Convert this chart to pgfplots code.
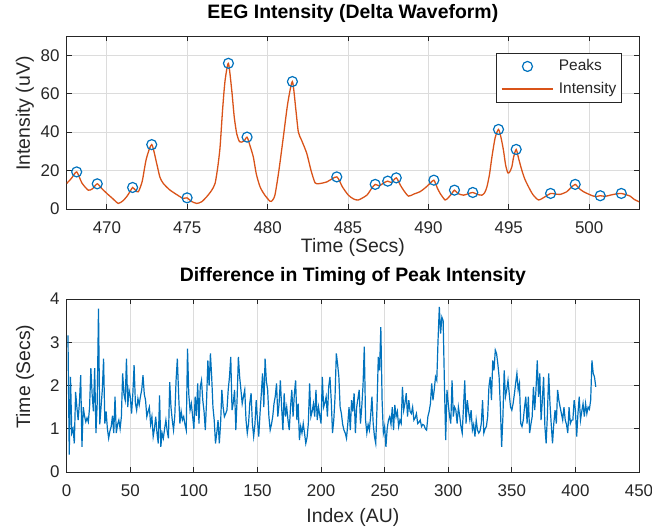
\documentclass[border=0pt]{standalone}
\usepackage{fontspec}
\setmainfont{Liberation Sans}
\usepackage{pgfplots}
\pgfplotsset{compat=1.18}

\definecolor{mblue}{rgb}{0,0.447,0.741}
\definecolor{morange}{rgb}{0.85,0.325,0.098}
\definecolor{axgray}{rgb}{0.15,0.15,0.15}
\definecolor{gridgray}{RGB}{220,220,220}

\pgfplotsset{
  matlab/.style={
    scale only axis, width=572.3bp, height=173bp,
    axis line style={axgray, line width=0.9bp},
    tick style={axgray, line width=0.9bp},
    tick align=inside, tick pos=both, major tick length=5bp,
    grid=major, grid style={gridgray, line width=0.8bp},
    /pgf/number format/assume math mode=true,
    ticklabel style={font=\fontsize{17}{20}\selectfont, text=axgray, inner sep=0pt},
    xticklabel style={anchor=center, yshift=-19bp},
    yticklabel style={anchor=east, xshift=-7bp},
    label style={font=\fontsize{19.5}{22}\selectfont, text=axgray},
    title style={font=\bfseries\fontsize{19.5}{22}\selectfont, anchor=center},
    ylabel style={at={(axis description cs:-0.0729,0.552)}, anchor=center},
  },
  marklegend/.style={legend image code/.code={\draw[##1] plot coordinates {(25.8bp,0bp)};}},
  linelegend/.style={legend image code/.code={\draw[##1] (0bp,0bp) -- (51.6bp,0bp);}},
}

\begin{document}
\begin{tikzpicture}
\useasboundingbox (-66.7bp,-321bp) rectangle (585.3bp,209bp);

% top panel: intensity trace with detected peaks
\begin{axis}[matlab,
  at={(0,0)}, anchor=south west,
  xmin=467.5, xmax=503.1, ymin=0, ymax=90,
  xtick={470,475,...,500}, ytick={0,20,...,80},
  title={EEG Intensity (Delta Waveform)},
  title style={at={(axis description cs:0.5,1.098)}},
  xlabel={Time (Secs)}, ylabel={Intensity (uV)},
  xlabel style={at={(axis description cs:0.5,-0.2197)}, anchor=center},
  legend cell align=left,
  legend style={at={(rel axis cs:0.970,0.903)}, anchor=north east,
    draw=axgray, line width=0.8bp, fill=white,
    font=\fontsize{15.5}{18}\selectfont, text=axgray,
    inner xsep=5bp, inner ysep=6bp, row sep=8.2bp,
    nodes={inner sep=0pt, text height=11.5bp, text depth=3bp},
    /tikz/every odd column/.append style={column sep=5bp}},
]
\addplot[only marks, mark=o, mblue, mark size=5bp, mark options={line width=1.2bp}, marklegend]
  coordinates {
  (468.12,19.3) (469.40,13.1) (471.60,11.2) (472.79,33.5) (474.99,5.8)
  (477.56,75.8) (478.72,37.4) (481.54,66.3) (484.30,16.7) (486.69,12.8)
  (487.47,14.5) (488.00,16.2) (490.34,15.0) (491.62,9.8) (492.76,8.6)
  (494.36,41.4) (495.46,31.0) (497.60,8.1) (499.13,12.8) (500.69,6.9)
  (502.00,8.1)
};
\addlegendentry{Peaks}
\addplot[morange, line width=1.3bp, smooth, tension=0.4, linelegend]
  coordinates {
  (467.50,13.3) (467.80,16.0) (468.12,19.3) (468.45,13.5) (468.84,9.8)
  (469.10,10.5) (469.40,13.1) (469.70,10.5) (470.00,8.1) (470.35,5.5)
  (470.71,2.9) (471.00,4.3) (471.23,6.4) (471.45,9.2) (471.60,11.2)
  (471.80,9.6) (471.96,9.0) (472.20,14.5) (472.45,26.0) (472.79,33.5)
  (473.10,23.6) (473.30,16.5) (473.51,13.3) (473.93,9.8) (474.55,6.4)
  (474.75,5.5) (474.99,5.8) (475.25,4.0) (475.59,2.9) (475.90,3.8)
  (476.21,6.4) (476.50,9.5) (476.73,13.3) (476.90,22.0) (477.04,32.2)
  (477.20,52.0) (477.35,66.7) (477.56,75.8) (477.77,61.5) (477.92,48.0)
  (478.08,39.0) (478.25,35.0) (478.39,34.8) (478.55,35.5) (478.72,37.4)
  (478.90,33.0) (479.11,27.0) (479.30,18.0) (479.53,11.5) (479.80,7.5)
  (480.15,4.0) (480.30,4.5) (480.46,7.5) (480.70,20.0) (481.00,39.0)
  (481.25,55.0) (481.54,66.3) (481.75,52.0) (481.91,40.0) (482.10,36.0)
  (482.43,29.0) (482.70,20.0) (482.95,13.6) (483.20,13.2) (483.68,14.1)
  (484.30,16.7) (484.65,11.5) (485.02,7.2) (485.35,5.2) (485.65,4.7)
  (486.17,7.2) (486.45,10.5) (486.69,12.8) (486.95,12.0) (487.20,13.5)
  (487.47,14.5) (487.70,13.8) (488.00,16.2) (488.25,12.5) (488.45,9.8)
  (488.76,6.7) (489.10,7.8) (489.48,9.0) (489.80,11.0) (490.10,13.3)
  (490.34,15.0) (490.55,11.0) (490.73,8.1) (491.04,4.7) (491.25,6.0)
  (491.46,8.1) (491.62,9.8) (491.85,8.0) (492.18,7.2) (492.50,8.0)
  (492.76,8.6) (493.05,7.6) (493.33,7.2) (493.50,8.5) (493.64,11.5)
  (493.80,18.0) (493.95,27.0) (494.15,37.0) (494.36,41.4) (494.52,37.0)
  (494.67,30.5) (494.80,23.0) (494.94,18.8) (495.05,19.2) (495.19,21.9)
  (495.30,27.0) (495.46,31.0) (495.62,26.0) (495.81,20.2) (496.00,15.5)
  (496.23,11.5) (496.50,7.5) (496.85,4.7) (497.26,6.4) (497.60,8.1)
  (497.90,7.8) (498.20,7.6) (498.61,9.0) (498.85,11.0) (499.13,12.8)
  (499.40,10.5) (499.65,9.0) (500.00,7.6) (500.27,6.7) (500.45,6.5)
  (500.69,6.9) (501.00,6.6) (501.31,7.2) (501.65,7.8) (502.00,8.1)
  (502.30,7.4) (502.55,6.7) (502.80,5.0) (503.10,3.8)
};
\addlegendentry{Intensity}
\end{axis}

% bottom panel: spacing between consecutive peaks
\begin{axis}[matlab,
  at={(0,-90bp)}, anchor=north west,
  xmin=0, xmax=450, ymin=0, ymax=4,
  xtick={0,50,...,450}, ytick={0,1,...,4},
  title={Difference in Timing of Peak Intensity},
  title style={at={(axis description cs:0.5,1.0926)}},
  xlabel={Index (AU)}, ylabel={Time (Secs)},
  xlabel style={at={(axis description cs:0.5,-0.2606)}, anchor=center},
]
\addplot[mblue, line width=1.2bp] table[row sep=\\] {
x y\\
1 3.16\\ 2 0.4\\ 3 2.2\\ 4 0.9\\ 5 1.0\\ 6 0.66\\ 7 1.85\\ 8 1.5\\ 9 1.2\\ 10 1.6\\
11 2.24\\ 12 0.58\\ 13 1.5\\ 14 1.3\\ 15 1.16\\ 16 1.25\\ 17 1.16\\ 18 1.5\\ 19 2.4\\ 20 1.8\\
21 1.4\\ 22 2.4\\ 23 0.9\\ 24 1.6\\ 25 3.78\\ 26 1.1\\ 27 1.5\\ 28 1.9\\ 29 2.62\\ 30 1.12\\
31 1.4\\ 32 1.0\\ 33 0.78\\ 34 0.95\\ 35 1.05\\ 36 1.3\\ 37 0.9\\ 38 1.74\\ 39 0.9\\ 40 1.1\\
41 1.2\\ 42 1.0\\ 43 1.28\\ 44 2.28\\ 45 1.8\\ 46 1.66\\ 47 2.62\\ 48 1.5\\ 49 1.9\\ 50 1.74\\
51 1.35\\ 52 1.8\\ 53 2.47\\ 54 1.6\\ 55 1.43\\ 56 1.7\\ 57 1.55\\ 58 1.75\\ 59 1.9\\ 60 2.24\\
61 1.8\\ 62 1.66\\ 63 1.28\\ 64 1.4\\ 65 1.5\\ 66 1.1\\ 67 1.28\\ 68 0.82\\ 69 1.0\\ 70 1.28\\
71 0.9\\ 72 0.66\\ 73 1.77\\ 74 0.58\\ 75 0.9\\ 76 0.78\\ 77 1.0\\ 78 1.2\\ 79 0.95\\ 80 0.78\\
81 2.08\\ 82 1.5\\ 83 1.2\\ 84 0.97\\ 85 1.3\\ 86 2.12\\ 87 2.62\\ 88 1.8\\ 89 1.12\\ 90 1.4\\
91 1.2\\ 92 1.28\\ 93 1.1\\ 94 0.97\\ 95 2.85\\ 96 1.8\\ 97 1.43\\ 98 1.58\\ 99 1.3\\ 100 1.0\\
101 1.74\\ 102 1.3\\ 103 2.05\\ 104 1.12\\ 105 1.97\\ 106 2.12\\ 107 1.66\\ 108 1.4\\ 109 0.97\\ 110 1.66\\
111 2.58\\ 112 2.0\\ 113 2.74\\ 114 2.2\\ 115 1.5\\ 116 1.2\\ 117 0.66\\ 118 0.9\\ 119 1.2\\ 120 0.66\\
121 1.12\\ 122 1.9\\ 123 1.5\\ 124 1.28\\ 125 1.35\\ 126 1.43\\ 127 1.9\\ 128 2.2\\ 129 2.66\\ 130 1.43\\
131 1.6\\ 132 1.9\\ 133 0.97\\ 134 1.7\\ 135 2.66\\ 136 2.2\\ 137 1.9\\ 138 1.58\\ 139 1.75\\ 140 1.9\\
141 1.2\\ 142 0.9\\ 143 1.12\\ 144 1.6\\ 145 1.82\\ 146 1.12\\ 147 0.82\\ 148 1.1\\ 149 1.66\\ 150 1.2\\
151 0.82\\ 152 1.35\\ 153 1.8\\ 154 2.28\\ 155 1.5\\ 156 2.62\\ 157 2.1\\ 158 1.9\\ 159 1.28\\ 160 0.97\\
161 1.1\\ 162 1.28\\ 163 1.58\\ 164 1.75\\ 165 2.05\\ 166 1.28\\ 167 1.58\\ 168 2.12\\ 169 1.5\\ 170 0.97\\
171 1.82\\ 172 1.28\\ 173 1.5\\ 174 1.2\\ 175 0.97\\ 176 1.5\\ 177 1.9\\ 178 1.28\\ 179 1.8\\ 180 2.12\\
181 1.2\\ 182 1.58\\ 183 0.74\\ 184 1.05\\ 185 0.9\\ 186 1.12\\ 187 0.9\\ 188 0.66\\ 189 0.8\\ 190 1.12\\
191 2.05\\ 192 1.28\\ 193 1.4\\ 194 1.58\\ 195 1.28\\ 196 1.9\\ 197 1.2\\ 198 1.5\\ 199 1.3\\ 200 1.12\\
201 2.2\\ 202 1.5\\ 203 1.6\\ 204 1.74\\ 205 1.28\\ 206 1.97\\ 207 2.2\\ 208 1.66\\ 209 0.9\\ 210 1.2\\
211 1.74\\ 212 2.74\\ 213 2.5\\ 214 2.2\\ 215 1.5\\ 216 1.35\\ 217 1.1\\ 218 0.97\\ 219 0.9\\ 220 0.78\\
221 1.1\\ 222 1.5\\ 223 0.97\\ 224 1.66\\ 225 1.4\\ 226 1.82\\ 227 0.9\\ 228 1.5\\ 229 1.7\\ 230 1.9\\
231 1.12\\ 232 1.5\\ 233 2.0\\ 234 2.9\\ 235 1.2\\ 236 0.9\\ 237 1.1\\ 238 0.97\\ 239 1.3\\ 240 1.74\\
241 1.12\\ 242 0.82\\ 243 0.66\\ 244 1.5\\ 245 2.66\\ 246 2.35\\ 247 3.35\\ 248 1.66\\ 249 0.9\\ 250 1.05\\
251 0.58\\ 252 1.0\\ 253 1.2\\ 254 1.28\\ 255 1.1\\ 256 1.5\\ 257 0.97\\ 258 1.55\\ 259 1.28\\ 260 1.4\\
261 1.05\\ 262 1.2\\ 263 1.12\\ 264 1.97\\ 265 1.43\\ 266 1.6\\ 267 1.82\\ 268 1.28\\ 269 1.66\\ 270 1.4\\
271 1.35\\ 272 1.5\\ 273 1.2\\ 274 1.25\\ 275 1.35\\ 276 1.12\\ 277 1.15\\ 278 1.2\\ 279 1.05\\ 280 1.1\\
281 1.08\\ 282 1.0\\ 283 0.97\\ 284 1.28\\ 285 1.4\\ 286 1.58\\ 287 2.05\\ 288 1.66\\ 289 1.9\\ 290 2.2\\
291 2.12\\ 292 3.05\\ 293 3.82\\ 294 3.2\\ 295 3.58\\ 296 3.5\\ 297 2.05\\ 298 0.74\\ 299 1.9\\ 300 1.58\\
301 1.3\\ 302 1.12\\ 303 2.12\\ 304 1.28\\ 305 1.5\\ 306 1.43\\ 307 1.12\\ 308 1.5\\ 309 1.3\\ 310 1.05\\
311 0.9\\ 312 1.5\\ 313 2.12\\ 314 1.12\\ 315 1.66\\ 316 1.4\\ 317 1.2\\ 318 1.43\\ 319 0.97\\ 320 1.1\\
321 0.82\\ 322 1.2\\ 323 0.97\\ 324 0.9\\ 325 0.95\\ 326 1.12\\ 327 1.66\\ 328 0.9\\ 329 1.0\\ 330 1.05\\
331 1.28\\ 332 1.97\\ 333 2.2\\ 334 1.66\\ 335 2.58\\ 336 2.35\\ 337 2.82\\ 338 2.74\\ 339 2.5\\ 340 2.2\\
341 1.5\\ 342 0.58\\ 343 1.28\\ 344 2.35\\ 345 1.74\\ 346 1.9\\ 347 2.12\\ 348 1.8\\ 349 1.5\\ 350 1.43\\
351 1.58\\ 352 1.8\\ 353 2.05\\ 354 2.28\\ 355 1.9\\ 356 2.05\\ 357 1.12\\ 358 1.05\\ 359 1.2\\ 360 1.5\\
361 1.74\\ 362 1.12\\ 363 1.74\\ 364 0.9\\ 365 1.1\\ 366 1.28\\ 367 1.97\\ 368 1.43\\ 369 1.9\\ 370 2.58\\
371 1.74\\ 372 2.28\\ 373 1.2\\ 374 1.66\\ 375 2.2\\ 376 1.05\\ 377 0.66\\ 378 1.35\\ 379 2.28\\ 380 1.58\\
381 1.1\\ 382 0.66\\ 383 1.12\\ 384 1.43\\ 385 1.12\\ 386 1.9\\ 387 1.66\\ 388 1.5\\ 389 1.35\\ 390 1.2\\
391 1.5\\ 392 1.2\\ 393 1.1\\ 394 0.9\\ 395 1.5\\ 396 1.12\\ 397 1.2\\ 398 1.2\\ 399 1.66\\ 400 1.43\\
401 0.82\\ 402 1.35\\ 403 1.74\\ 404 1.2\\ 405 1.4\\ 406 1.58\\ 407 1.28\\ 408 1.58\\ 409 1.35\\ 410 1.5\\
411 1.45\\ 412 1.66\\ 413 2.58\\ 414 2.28\\ 415 2.2\\ 416 1.97\\
};
\end{axis}
\end{tikzpicture}
\end{document}
